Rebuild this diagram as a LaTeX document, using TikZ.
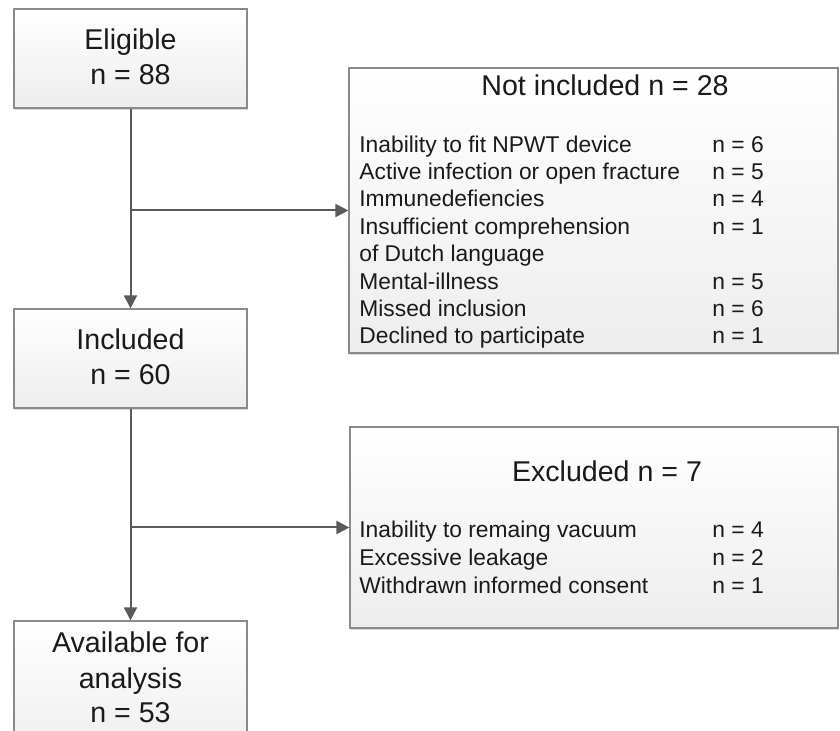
\documentclass[tikz,border=0pt]{standalone}
\usepackage{fontspec}
\setmainfont{Liberation Sans}
\usetikzlibrary{arrows.meta,shadows}
\definecolor{linegray}{HTML}{5A5A5A}
\definecolor{boxborder}{HTML}{8A8A8A}
\definecolor{txt}{HTML}{1A1A1A}
\begin{document}
\begin{tikzpicture}[x=0.5pt,y=-0.5pt,
  box/.style={draw=boxborder, line width=0.6pt, top color=white, bottom color=black!7,
    rectangle, inner sep=0pt,
    general shadow={fill=black!15, shadow xshift=0.6pt, shadow yshift=-0.8pt}},
  big/.style={font=\fontsize{14.3}{17}\selectfont, text=txt, inner sep=0pt, anchor=base},
  small/.style={font=\fontsize{11.4}{13.7}\selectfont, text=txt, inner sep=0pt, anchor=base west},
  conn/.style={draw=linegray, line width=1pt, -{Triangle[length=6.5pt,width=6.5pt]}},
]
\clip (0,0) rectangle (840,731);

% boxes
\node[box, minimum width=116.5pt, minimum height=49.5pt] (elig) at (130.5,58.5) {};
\node[box, minimum width=116.5pt, minimum height=49.5pt] (incl) at (130.5,358.5) {};
\node[box, minimum width=116.5pt, minimum height=70pt] (avail) at (130.5,691) {};
\node[box, minimum width=244.5pt, minimum height=142.5pt] (notinc) at (593.5,210.5) {};
\node[box, minimum width=244pt, minimum height=100.5pt] (excl) at (594,527.5) {};

% main box texts
\node[big] (t1) at (130.5,50) {Eligible};
\node[big] (t2) at (130.5,85) {n = 88};
\node[big] (t3) at (130.5,350) {Included};
\node[big] (t4) at (130.5,385) {n = 60};
\node[big] (t5) at (130.5,652) {Available for};
\node[big] (t6) at (130.5,688) {analysis};
\node[big] (t7) at (130.5,722) {n = 53};
\node[big] (t8) at (605,96) {Not included n = 28};
\node[big] (t9) at (607,482) {Excluded n = 7};

% not included list
\node[small] (a1) at (359,152.7) {Inability to fit NPWT device};
\node[small] (a2) at (359,180) {Active infection or open fracture};
\node[small] (a3) at (359,206.7) {Immunedefiencies};
\node[small] (a4) at (359,235) {Insufficient comprehension};
\node[small] (a5) at (359,261.7) {of Dutch language};
\node[small] (a6) at (359,289.3) {Mental-illness};
\node[small] (a7) at (359,316.7) {Missed inclusion};
\node[small] (a8) at (359,344) {Declined to participate};
\node[small] (b1) at (712,152.7) {n = 6};
\node[small] (b2) at (712,180) {n = 5};
\node[small] (b3) at (712,206.7) {n = 4};
\node[small] (b4) at (712,235) {n = 1};
\node[small] (b6) at (712,289.3) {n = 5};
\node[small] (b7) at (712,316.7) {n = 6};
\node[small] (b8) at (712,344) {n = 1};

% excluded list
\node[small] (c1) at (359,538) {Inability to remaing vacuum};
\node[small] (c2) at (359,565) {Excessive leakage};
\node[small] (c3) at (359,593) {Withdrawn informed consent};
\node[small] (d1) at (712,538) {n = 4};
\node[small] (d2) at (712,565) {n = 2};
\node[small] (d3) at (712,593) {n = 1};

% connectors
\draw[conn] (elig.south) -- (incl.north);
\draw[conn] (elig.south |- notinc.west) -- (notinc.west);
\draw[conn] (incl.south) -- (avail.north);
\draw[conn] (incl.south |- excl.west) -- (excl.west);
\end{tikzpicture}
\end{document}
